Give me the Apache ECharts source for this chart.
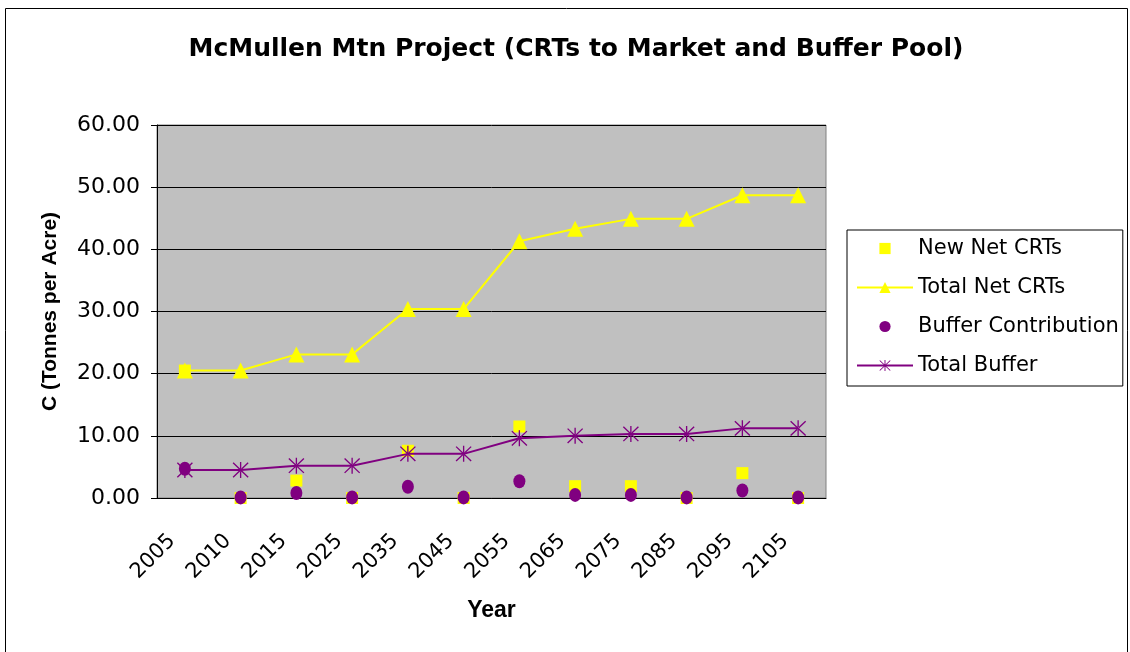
<!DOCTYPE html>
<html>
<head>
<meta charset="utf-8">
<script src="https://cdn.jsdelivr.net/npm/echarts@6/dist/echarts.min.js"></script>
<style>
  html, body { margin: 0; padding: 0; background: #fff; }
  #chart { width: 1130px; height: 652px; }
</style>
</head>
<body>
<div id="chart"></div>
<script>
// categories and series
var years = ['2005', '2010', '2015', '2025', '2035', '2045', '2055', '2065', '2075', '2085', '2095', '2105'];
var newNetCRTs = [20.5, 0, 2.8, 0, 7.6, 0, 11.5, 1.9, 1.9, 0, 4.0, 0];
var totalNetCRTs = [20.5, 20.5, 23.1, 23.1, 30.4, 30.4, 41.3, 43.3, 44.9, 44.9, 48.7, 48.7];
var bufferContribution = [4.7, 0.1, 0.8, 0.1, 1.8, 0.1, 2.7, 0.5, 0.5, 0.1, 1.2, 0.1];
var totalBuffer = [4.5, 4.5, 5.2, 5.2, 7.1, 7.1, 9.6, 10.0, 10.3, 10.3, 11.2, 11.2];

var YELLOW = '#FFFF00', PURPLE = '#800080';
var arial = 'Liberation Sans, Arial, sans-serif';
var wide = 'DejaVu Sans, sans-serif';

// asterisk marker: vertical bar + X
var starPath = 'path://M-0.08,-1L0.08,-1L0.08,1L-0.08,1Z' +
  'M-0.843,-0.957L0.957,0.843L0.843,0.957L-0.957,-0.843Z' +
  'M-0.843,0.957L0.957,-0.843L0.843,-0.957L-0.957,0.843Z';

var chart = echarts.init(document.getElementById('chart'));

chart.setOption({
  animation: false,
  backgroundColor: '#fff',
  textStyle: { fontFamily: wide },
  title: {
    text: 'McMullen Mtn Project (CRTs to Market and Buffer Pool)',
    left: 571, top: 32, textAlign: 'center',
    textStyle: { fontFamily: wide, fontSize: 25, fontWeight: 'bold', color: '#000' }
  },
  graphic: [{
    type: 'rect', silent: true, z: -1,
    shape: { x: 5.5, y: 8.5, width: 1122, height: 660 },
    style: { fill: 'none', stroke: '#000', lineWidth: 1 }
  }],
  legend: {
    orient: 'vertical',
    left: 847, top: 230,
    padding: [8, 4, 10, 9],
    borderColor: '#000', borderWidth: 1,
    itemWidth: 56, itemHeight: 14, itemGap: 18,
    data: ['New Net CRTs', 'Total Net CRTs', 'Buffer Contribution', 'Total Buffer'],
    textStyle: { fontFamily: wide, fontSize: 21, color: '#000' }
  },
  grid: { left: 157, right: 304, top: 125, bottom: 154, show: true, backgroundColor: '#C0C0C0', borderColor: '#808080', borderWidth: 1 },
  xAxis: {
    type: 'category',
    data: years,
    name: 'Year', nameLocation: 'middle', nameGap: 101, nameMoveOverlap: false,
    nameTextStyle: { fontFamily: arial, fontSize: 23, fontWeight: 'bold', color: '#000' },
    axisLine: { lineStyle: { color: '#000', width: 1 } },
    axisTick: { length: 6, lineStyle: { color: '#000' } },
    axisLabel: { rotate: 45, fontSize: 21, color: '#000', margin: 27, padding: [0, 18, 0, 0], fontFamily: wide },
    splitLine: { show: false }
  },
  yAxis: {
    type: 'value',
    min: 0, max: 60, interval: 10,
    name: 'C (Tonnes per Acre)', nameLocation: 'middle', nameGap: 96, nameRotate: 90,
    nameTextStyle: { fontFamily: arial, fontSize: 21, fontWeight: 'bold', color: '#000' },
    axisLine: { show: true, lineStyle: { color: '#000', width: 1 } },
    axisTick: { show: true, length: 6, lineStyle: { color: '#000' } },
    axisLabel: { fontSize: 22, color: '#000', margin: 17, fontFamily: wide,
      formatter: function (v) { return v.toFixed(2); } },
    splitLine: { lineStyle: { color: '#000', width: 1 } }
  },
  series: [
    {
      name: 'Total Net CRTs', type: 'line', data: totalNetCRTs, z: 2,
      symbol: 'triangle', symbolSize: 16, showAllSymbol: true,
      itemStyle: { color: YELLOW },
      lineStyle: { color: YELLOW, width: 2 }
    },
    {
      name: 'New Net CRTs', type: 'line', data: newNetCRTs, z: 3,
      symbol: 'rect', symbolSize: 12, showAllSymbol: true,
      itemStyle: { color: YELLOW },
      lineStyle: { width: 0, opacity: 0 }
    },
    {
      name: 'Buffer Contribution', type: 'line', data: bufferContribution, z: 4,
      symbol: 'circle', symbolSize: [12, 14], showAllSymbol: true,
      itemStyle: { color: PURPLE },
      lineStyle: { width: 0, opacity: 0 }
    },
    {
      name: 'Total Buffer', type: 'line', data: totalBuffer, z: 5,
      symbol: starPath, symbolSize: 16, showAllSymbol: true,
      itemStyle: { color: PURPLE },
      lineStyle: { color: PURPLE, width: 2 }
    }
  ]
});
</script>
</body>
</html>
